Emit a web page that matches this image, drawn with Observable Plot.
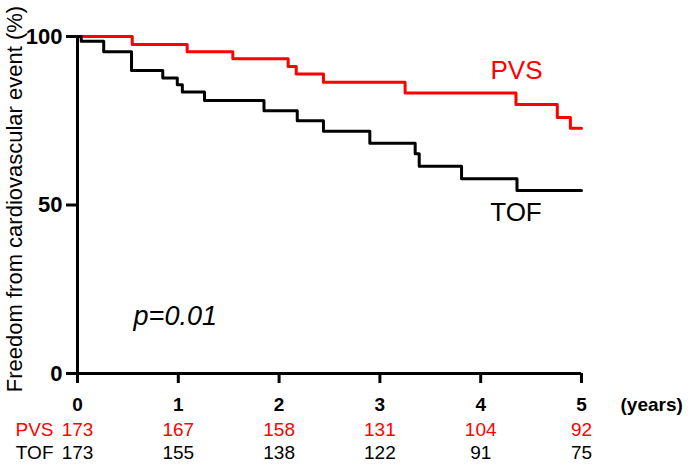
<!DOCTYPE html>
<html>
<head>
<meta charset="utf-8">
<script src="https://cdn.jsdelivr.net/npm/d3@7"></script>
<script src="https://cdn.jsdelivr.net/npm/@observablehq/plot@0.6"></script>
<style>
  html, body { margin: 0; padding: 0; background: #fff; }
  #chart { width: 688px; height: 464px; }
  svg { font-family: "Liberation Sans", Arial, sans-serif; }
</style>
</head>
<body>
<div id="chart"></div>
<script>
// Kaplan-Meier steps (years, % free from event)
const pvsTime = [0, 0.543, 1.088, 1.541, 2.09, 2.17, 2.44, 3.25, 4.35, 4.76, 4.89, 5.0];
const pvsSurv = [100, 97.6, 95.5, 93.4, 91.1, 88.9, 86.4, 83.2, 79.8, 76.0, 72.8, 72.8];
const tofTime = [0, 0.037, 0.26, 0.536, 0.846, 0.99, 1.04, 1.26, 1.85, 2.18, 2.44, 2.90, 3.35, 3.39, 3.81, 4.36, 5.0];
const tofSurv = [100, 98.6, 95.5, 89.9, 87.7, 85.7, 83.5, 81.0, 78.0, 75.0, 71.9, 68.3, 65.2, 61.5, 57.8, 54.3, 54.3];

// Number at risk
const riskYears = [0, 1, 2, 3, 4, 5];
const pvsRisk = [173, 167, 158, 131, 104, 92];
const tofRisk = [173, 155, 138, 122, 91, 75];

const xTicks = [0, 1, 2, 3, 4, 5];
const yTicks = [0, 50, 100];
const yTitle = "Freedom from cardiovascular event (%)";
const pText = "p=0.01";

const RED = "#ff0000";
const pvs = pvsTime.map((t, i) => ({t, s: pvsSurv[i]}));
const tof = tofTime.map((t, i) => ({t, s: tofSurv[i]}));
const pvsRows = riskYears.map((t, i) => ({t, n: pvsRisk[i]}));
const tofRows = riskYears.map((t, i) => ({t, n: tofRisk[i]}));

const chart = Plot.plot({
  width: 688,
  height: 464,
  marginLeft: 77,
  marginRight: 107,
  marginTop: 36,
  marginBottom: 91,
  style: {fontFamily: "'Liberation Sans', Arial, sans-serif", background: "#fff", overflow: "visible"},
  x: {domain: [0, 5]},
  y: {domain: [0, 100]},
  marks: [
    Plot.axisX({ticks: xTicks, tickSize: 10, tickFormat: () => "", label: null, strokeWidth: 3}),
    Plot.axisY({ticks: yTicks, tickSize: 11, tickFormat: () => "", label: null, strokeWidth: 3}),
    Plot.text(xTicks, {x: d => d, y: 0, text: d => String(d), dy: 31, fontSize: 19, fontWeight: "bold"}),
    Plot.text(yTicks, {x: 0, y: d => d, text: d => String(d), dx: -15, textAnchor: "end", fontSize: 22, fontWeight: "bold", letterSpacing: "-0.5px"}),
    Plot.ruleY([0], {x1: 0, x2: 5, strokeWidth: 3}),
    Plot.ruleX([0], {y1: 0, y2: 100, strokeWidth: 3}),
    Plot.line(pvs, {x: "t", y: "s", curve: "step-after", stroke: RED, strokeWidth: 3}),
    Plot.line(tof, {x: "t", y: "s", curve: "step-after", stroke: "#000", strokeWidth: 3}),
    Plot.text(["PVS"], {x: 4.355, y: 90.0, text: d => d, fill: RED, fontSize: 26}),
    Plot.text(["TOF"], {x: 4.35, y: 47.7, text: d => d, fill: "#000", fontSize: 26}),
    Plot.text([pText], {x: 0.97, y: 17, text: d => d, fontSize: 27, fontStyle: "italic"}),
    Plot.text(["(years)"], {x: 5, y: 0, text: d => d, dx: 39, dy: 31, textAnchor: "start", fontSize: 19, fontWeight: "bold"}),
    Plot.text(pvsRows, {x: "t", y: 0, text: d => String(d.n), dy: 56, fill: RED, fontSize: 19}),
    Plot.text(tofRows, {x: "t", y: 0, text: d => String(d.n), dy: 79, fill: "#000", fontSize: 19}),
    Plot.text(["PVS"], {x: 0, y: 0, text: d => d, dx: -24, dy: 56, textAnchor: "end", fill: RED, fontSize: 19}),
    Plot.text(["TOF"], {x: 0, y: 0, text: d => d, dx: -24, dy: 79, textAnchor: "end", fill: "#000", fontSize: 19}),
    Plot.text([yTitle], {frameAnchor: "left", text: d => d, rotate: -90, textAnchor: "middle", dx: -63, dy: -6, fontSize: 22})
  ]
});
document.getElementById("chart").appendChild(chart);
</script>
</body>
</html>
